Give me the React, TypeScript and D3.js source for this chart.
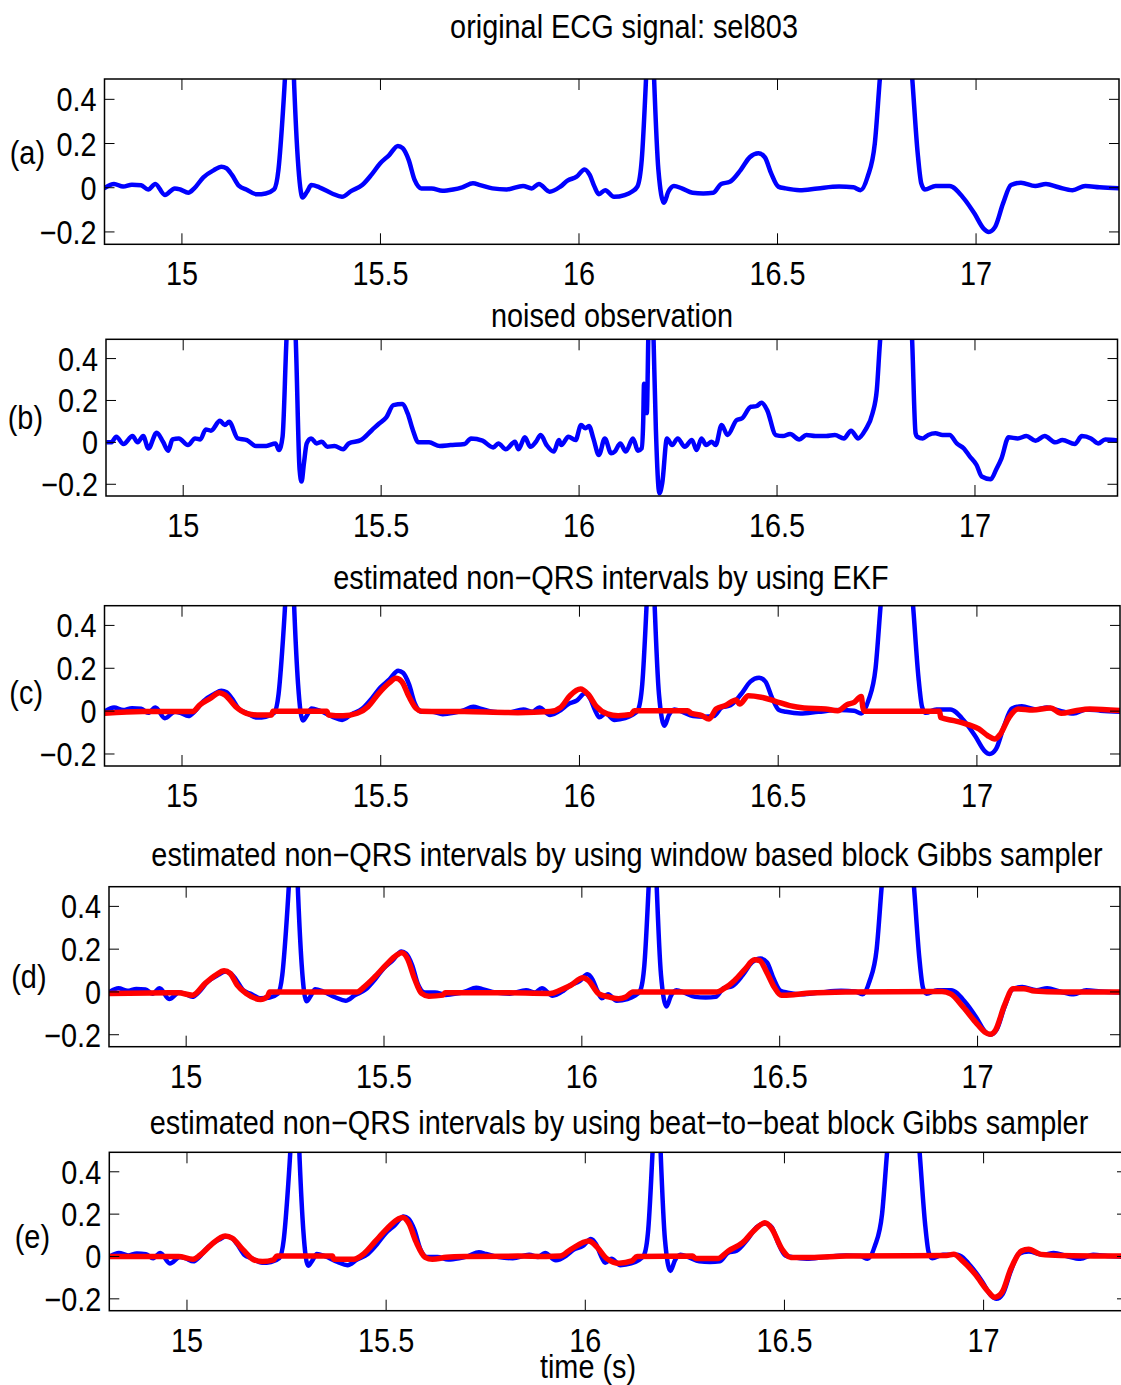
import React from 'react';
import * as d3 from 'd3';

type Pt = [number, number];

const X_TICKS = [15, 15.5, 16, 16.5, 17];
const Y_TICKS = [0.4, 0.2, 0, -0.2];
const X_DOMAIN: Pt = [14.805, 17.36];
const Y_DOMAIN: Pt = [-0.256, 0.492];

const TITLES = [
  'original ECG signal: sel803',
  'noised observation',
  'estimated non\u2212QRS intervals by using EKF',
  'estimated non\u2212QRS intervals by using window based block Gibbs sampler',
  'estimated non\u2212QRS intervals by using beat\u2212to\u2212beat block Gibbs sampler',
];
const PANEL_LABELS = ['(a)', '(b)', '(c)', '(d)', '(e)'];
const X_LABEL = 'time (s)';

// original ECG signal (time s, mV)
const original: Pt[] = [
  [14.804, -0.003], [14.829, 0.017], [14.852, 0.005], [14.874, 0.014], [14.897, 0.011], [14.915, -0.008],
  [14.933, 0.017], [14.957, -0.033], [14.982, -0.003], [14.996, -0.008], [15.016, -0.023], [15.031, -0.003],
  [15.054, 0.047], [15.081, 0.08], [15.099, 0.095], [15.112, 0.088], [15.126, 0.058], [15.144, 0.008],
  [15.162, -0.008], [15.189, -0.03], [15.211, -0.026], [15.232, -0.008], [15.243, 0.08], [15.252, 0.28],
  [15.261, 0.55], [15.272, 1.05], [15.283, 0.45], [15.292, 0.126], [15.304, -0.044], [15.315, -0.018],
  [15.326, 0.012], [15.346, 0.002], [15.378, -0.026], [15.403, -0.041], [15.427, -0.014], [15.454, 0.012],
  [15.477, 0.058], [15.499, 0.11], [15.522, 0.148], [15.544, 0.189], [15.556, 0.179], [15.571, 0.126],
  [15.586, 0.035], [15.603, -0.003], [15.629, -0.003], [15.656, -0.014], [15.683, -0.008], [15.706, 0.002],
  [15.733, 0.02], [15.751, 0.012], [15.782, -0.003], [15.818, -0.008], [15.859, 0.008], [15.881, -0.003],
  [15.899, 0.017], [15.926, -0.018], [15.953, 0.005], [15.971, 0.032], [15.994, 0.05], [16.014, 0.083],
  [16.027, 0.058], [16.039, 0.005], [16.05, -0.029], [16.066, -0.011], [16.088, -0.041], [16.115, -0.033],
  [16.133, -0.018], [16.147, 0.005], [16.158, 0.126], [16.169, 0.5], [16.18, 1.0], [16.189, 0.5],
  [16.2, 0.08], [16.214, -0.068], [16.225, -0.018], [16.239, 0.008], [16.259, -0.003], [16.286, -0.023],
  [16.313, -0.026], [16.338, -0.023], [16.358, 0.017], [16.38, 0.027], [16.407, 0.08], [16.43, 0.138],
  [16.452, 0.156], [16.468, 0.138], [16.484, 0.065], [16.502, 0.005], [16.52, -0.003], [16.556, -0.011],
  [16.601, -0.003], [16.655, 0.005], [16.691, 0.002], [16.709, -0.011], [16.727, 0.05], [16.745, 0.2],
  [16.758, 0.5], [16.799, 1.3], [16.839, 0.5], [16.853, 0.156], [16.862, 0.02], [16.871, -0.008],
  [16.898, 0.008], [16.933, 0.008], [16.969, -0.048], [16.996, -0.117], [17.019, -0.185], [17.032, -0.2],
  [17.048, -0.177], [17.068, -0.071], [17.088, 0.012], [17.113, 0.023], [17.149, 0.008], [17.176, 0.017],
  [17.208, 0.002], [17.243, -0.011], [17.275, 0.008], [17.311, 0.002], [17.363, -0.003],
];

// noised observation
const noisy: Pt[] = [
  [14.806, 0], [14.818, 0], [14.831, 0.027], [14.849, -0.008], [14.872, 0.03], [14.885, 0], [14.899, 0.03],
  [14.912, -0.029], [14.933, 0.046], [14.949, 0.003], [14.962, -0.04], [14.973, 0.014], [14.989, 0.019],
  [15.012, -0.013], [15.03, 0.019], [15.043, 0.014], [15.057, 0.062], [15.07, 0.056], [15.093, 0.103],
  [15.105, 0.083], [15.116, 0.098], [15.138, 0.019], [15.161, 0.011], [15.183, -0.017], [15.21, -0.017],
  [15.233, -0.005], [15.242, -0.037], [15.251, 0.027], [15.26, 0.45], [15.273, 1.0], [15.285, 0.45],
  [15.294, -0.13], [15.299, -0.187], [15.305, -0.1], [15.312, -0.005], [15.323, 0.019], [15.337, -0.005],
  [15.35, 0.003], [15.364, -0.021], [15.382, -0.017], [15.404, -0.033], [15.418, -0.005], [15.449, 0.011],
  [15.477, 0.059], [15.495, 0.09], [15.513, 0.119], [15.531, 0.178], [15.553, 0.183], [15.567, 0.138],
  [15.58, 0.059], [15.594, 0], [15.621, 0], [15.648, -0.017], [15.675, -0.013], [15.711, -0.008],
  [15.727, 0.019], [15.756, 0.008], [15.783, -0.024], [15.796, -0.005], [15.815, -0.033], [15.838, 0.003],
  [15.847, -0.033], [15.863, 0.024], [15.877, -0.021], [15.891, 0.003], [15.903, 0.035], [15.918, -0.013],
  [15.936, -0.044], [15.949, 0.011], [15.955, -0.013], [15.973, 0.027], [15.991, 0.011], [16.005, 0.083],
  [16.016, 0.067], [16.025, 0.078], [16.036, 0.019], [16.05, -0.06], [16.065, 0.019], [16.081, -0.052],
  [16.09, -0.044], [16.104, -0.005], [16.118, -0.044], [16.136, 0.019], [16.149, -0.04], [16.158, -0.029],
  [16.162, 0.1], [16.164, 0.28], [16.167, 0.14], [16.171, 0.14], [16.175, 0.52], [16.181, 1.0],
  [16.188, 0.5], [16.194, 0.06], [16.203, -0.243], [16.21, -0.195], [16.222, 0.019], [16.235, -0.013],
  [16.249, 0.019], [16.267, -0.021], [16.285, 0.011], [16.297, -0.037], [16.309, 0.019], [16.321, -0.013],
  [16.335, 0.003], [16.345, -0.013], [16.36, 0.083], [16.375, 0.035], [16.398, 0.106], [16.411, 0.114],
  [16.434, 0.17], [16.448, 0.173], [16.461, 0.189], [16.475, 0.154], [16.497, 0.035], [16.515, 0.03],
  [16.533, 0.04], [16.556, 0.014], [16.574, 0.035], [16.597, 0.03], [16.624, 0.03], [16.646, 0.035],
  [16.669, 0.019], [16.687, 0.056], [16.705, 0.019], [16.723, 0.059], [16.741, 0.138], [16.752, 0.25],
  [16.759, 0.45], [16.805, 1.3], [16.841, 0.5], [16.85, 0.043], [16.854, 0.027], [16.868, 0.019],
  [16.882, 0.035], [16.9, 0.043], [16.918, 0.035], [16.936, 0.035], [16.954, -0.005], [16.972, -0.029],
  [16.986, -0.065], [17.004, -0.108], [17.017, -0.163], [17.04, -0.176], [17.053, -0.132], [17.067, -0.076],
  [17.085, 0.024], [17.108, 0.019], [17.13, 0.03], [17.153, 0.008], [17.176, 0.03], [17.203, 0],
  [17.221, 0.011], [17.252, -0.008], [17.27, 0.03], [17.293, 0.019], [17.311, -0.005], [17.329, 0.014],
  [17.365, 0.008],
];

// EKF estimate of non-QRS intervals
const ekf: Pt[] = [
  [14.805, -0.01], [14.901, -0.002], [15.027, -0.002], [15.045, 0.029], [15.072, 0.06], [15.094, 0.086],
  [15.108, 0.076], [15.135, 0.021], [15.162, -0.01], [15.189, -0.018], [15.225, -0.018], [15.229, 0],
  [15.364, 0], [15.369, -0.018], [15.405, -0.022], [15.441, -0.01], [15.468, 0.021], [15.495, 0.083],
  [15.522, 0.133], [15.538, 0.153], [15.553, 0.138], [15.571, 0.068], [15.589, 0.013], [15.603, 0],
  [15.71, -0.002], [15.845, -0.007], [15.926, -0.002], [15.953, 0.018], [15.976, 0.072], [16.003, 0.103],
  [16.021, 0.08], [16.043, 0.021], [16.07, -0.013], [16.097, -0.021], [16.129, -0.016], [16.138, 0.002],
  [16.272, 0.002], [16.281, -0.01], [16.308, -0.021], [16.326, -0.037], [16.344, 0.01], [16.367, 0.026],
  [16.394, 0.052], [16.403, 0.033], [16.425, 0.072], [16.457, 0.065], [16.493, 0.046], [16.529, 0.026],
  [16.565, 0.015], [16.619, 0.01], [16.65, 0.002], [16.673, 0.03], [16.691, 0.041], [16.709, 0.068],
  [16.713, 0.018], [16.716, 0], [16.906, 0], [16.909, -0.03], [16.942, -0.044], [16.978, -0.063],
  [17.005, -0.083], [17.027, -0.114], [17.045, -0.13], [17.059, -0.107], [17.081, -0.029], [17.104, 0.01],
  [17.14, 0.005], [17.185, 0.015], [17.212, -0.01], [17.248, 0.002], [17.284, 0.01], [17.363, 0.002],
];

// window based block Gibbs sampler estimate
const windowGibbs: Pt[] = [
  [14.804, -0.007], [14.98, -0.004], [15.016, -0.015], [15.048, 0.04], [15.075, 0.079], [15.096, 0.099],
  [15.111, 0.087], [15.129, 0.032], [15.152, -0.007], [15.188, -0.035], [15.206, -0.02], [15.211, 0],
  [15.432, 0], [15.45, 0.024], [15.477, 0.071], [15.505, 0.126], [15.532, 0.172], [15.545, 0.183],
  [15.559, 0.157], [15.577, 0.063], [15.595, -0.007], [15.613, -0.02], [15.649, -0.015], [15.654, -0.004],
  [15.794, -0.004], [15.92, -0.007], [15.946, 0.009], [15.971, 0.03], [16.003, 0.066], [16.016, 0.054],
  [16.043, -0.009], [16.07, -0.024], [16.093, -0.032], [16.111, -0.024], [16.129, 0], [16.341, 0],
  [16.359, 0.015], [16.386, 0.054], [16.413, 0.108], [16.436, 0.15], [16.449, 0.147], [16.467, 0.093],
  [16.486, 0.023], [16.504, -0.016], [16.54, -0.012], [16.576, -0.005], [16.666, 0], [16.91, 0.002],
  [16.932, -0.009], [16.964, -0.071], [16.995, -0.141], [17.018, -0.187], [17.032, -0.198], [17.045, -0.18],
  [17.068, -0.063], [17.09, 0.015], [17.117, 0.015], [17.144, 0.004], [17.208, 0], [17.36, 0],
];

// beat-to-beat block Gibbs sampler estimate
const beatGibbs: Pt[] = [
  [14.806, 0], [14.979, 0], [15.015, -0.013], [15.033, 0.007], [15.06, 0.054], [15.096, 0.097],
  [15.114, 0.086], [15.141, 0.031], [15.168, -0.016], [15.19, -0.024], [15.217, -0.016], [15.226, 0.002],
  [15.365, 0.002], [15.369, -0.013], [15.418, -0.013], [15.445, 0.015], [15.472, 0.07], [15.499, 0.125],
  [15.526, 0.172], [15.542, 0.184], [15.557, 0.156], [15.575, 0.07], [15.598, -0.004], [15.616, -0.013],
  [15.651, -0.004], [15.696, 0], [15.831, 0.002], [15.902, 0], [15.937, 0.002], [15.964, 0.034],
  [16.009, 0.073], [16.027, 0.049], [16.054, -0.01], [16.085, -0.032], [16.117, -0.021], [16.13, 0],
  [16.269, 0.002], [16.278, -0.01], [16.332, -0.01], [16.359, 0.026], [16.395, 0.065], [16.426, 0.127],
  [16.451, 0.159], [16.467, 0.135], [16.494, 0.034], [16.516, -0.005], [16.566, -0.005], [16.655, 0.002],
  [16.907, 0.005], [16.925, 0.01], [16.947, -0.021], [16.979, -0.084], [17.01, -0.162], [17.028, -0.193],
  [17.046, -0.17], [17.068, -0.06], [17.095, 0.026], [17.113, 0.034], [17.144, 0.01], [17.194, 0.005],
  [17.36, 0.002],
];

const FONT = '"Liberation Sans", Arial, Helvetica, sans-serif';
const FS = 33;
const SX = 0.874;

const panels = [
  { title: 0, tx: 624, ty: 38, left: 104.5, right: 1119, top: 79, bottom: 244.3, lx: 45, ly: 152, blue: original, red: null as Pt[] | null },
  { title: 1, tx: 612, ty: 327, left: 106, right: 1117.5, top: 339.3, bottom: 496, lx: 43, ly: 417, blue: noisy, red: null },
  { title: 2, tx: 611, ty: 589, left: 104.5, right: 1120, top: 605.7, bottom: 766, lx: 43, ly: 692, blue: original, red: ekf },
  { title: 3, tx: 627, ty: 866, left: 109, right: 1120, top: 886.7, bottom: 1046.7, lx: 46.5, ly: 976, blue: original, red: windowGibbs },
  { title: 4, tx: 619, ty: 1134, left: 109.3, right: 1127, top: 1152.3, bottom: 1310.7, lx: 50, ly: 1236, blue: original, red: beatGibbs },
];

function Txt({ x, y, anchor, children }: { x: number; y: number; anchor: string; children: React.ReactNode }) {
  return (
    <text
      transform={`translate(${x},${y}) scale(${SX},1)`}
      textAnchor={anchor}
      fontFamily={FONT}
      fontSize={FS}
      fill="#000"
    >
      {children}
    </text>
  );
}

function Panel({ p, i }: { p: (typeof panels)[number]; i: number }) {
  const x = d3.scaleLinear().domain(X_DOMAIN).range([p.left, p.right]);
  const y = d3.scaleLinear().domain(Y_DOMAIN).range([p.bottom, p.top]);
  const line = d3
    .line<Pt>()
    .x((d) => x(d[0]))
    .y((d) => y(d[1]))
    .curve(d3.curveMonotoneX);
  const clipId = `clip-${i}`;
  const tickX = 11;
  const tickY = 10;
  const fmtY = (v: number) => (v < 0 ? '\u2212' + String(Math.abs(v)) : String(v));
  return (
    <g>
      <defs>
        <clipPath id={clipId}>
          <rect x={p.left} y={p.top} width={p.right - p.left} height={p.bottom - p.top} />
        </clipPath>
      </defs>
      <g clipPath={`url(#${clipId})`}>
        <path d={line(p.blue) || ''} fill="none" stroke="#0000ff" strokeWidth={4.5} strokeLinejoin="round" />
        {p.red && (
          <path d={line(p.red) || ''} fill="none" stroke="#ff0000" strokeWidth={5.5} strokeLinejoin="round" />
        )}
      </g>
      {X_TICKS.map((t) => (
        <g key={'x' + t}>
          <line x1={x(t)} x2={x(t)} y1={p.bottom} y2={p.bottom - tickX} stroke="#000" strokeWidth={1} />
          <line x1={x(t)} x2={x(t)} y1={p.top} y2={p.top + tickX} stroke="#000" strokeWidth={1} />
          <Txt x={x(t)} y={p.bottom + 41} anchor="middle">{String(t)}</Txt>
        </g>
      ))}
      {Y_TICKS.map((t) => (
        <g key={'y' + t}>
          <line x1={p.left} x2={p.left + tickY} y1={y(t)} y2={y(t)} stroke="#000" strokeWidth={1} />
          <line x1={p.right} x2={p.right - tickY} y1={y(t)} y2={y(t)} stroke="#000" strokeWidth={1} />
          <Txt x={p.left - 8} y={y(t) + 12} anchor="end">{fmtY(t)}</Txt>
        </g>
      ))}
      <rect
        x={p.left}
        y={p.top}
        width={p.right - p.left}
        height={p.bottom - p.top}
        fill="none"
        stroke="#000"
        strokeWidth={1.5}
      />
      <Txt x={p.tx} y={p.ty} anchor="middle">{TITLES[p.title]}</Txt>
      <Txt x={p.lx} y={p.ly + 12} anchor="end">{PANEL_LABELS[i]}</Txt>
    </g>
  );
}

export default function App() {
  return (
    <svg
      width={1121}
      height={1385}
      style={{ position: 'absolute', left: 0, top: 0, background: '#fff' }}
    >
      <rect x={0} y={0} width={1121} height={1385} fill="#fff" />
      {panels.map((p, i) => (
        <Panel key={i} p={p} i={i} />
      ))}
      <Txt x={588} y={1378} anchor="middle">{X_LABEL}</Txt>
    </svg>
  );
}
